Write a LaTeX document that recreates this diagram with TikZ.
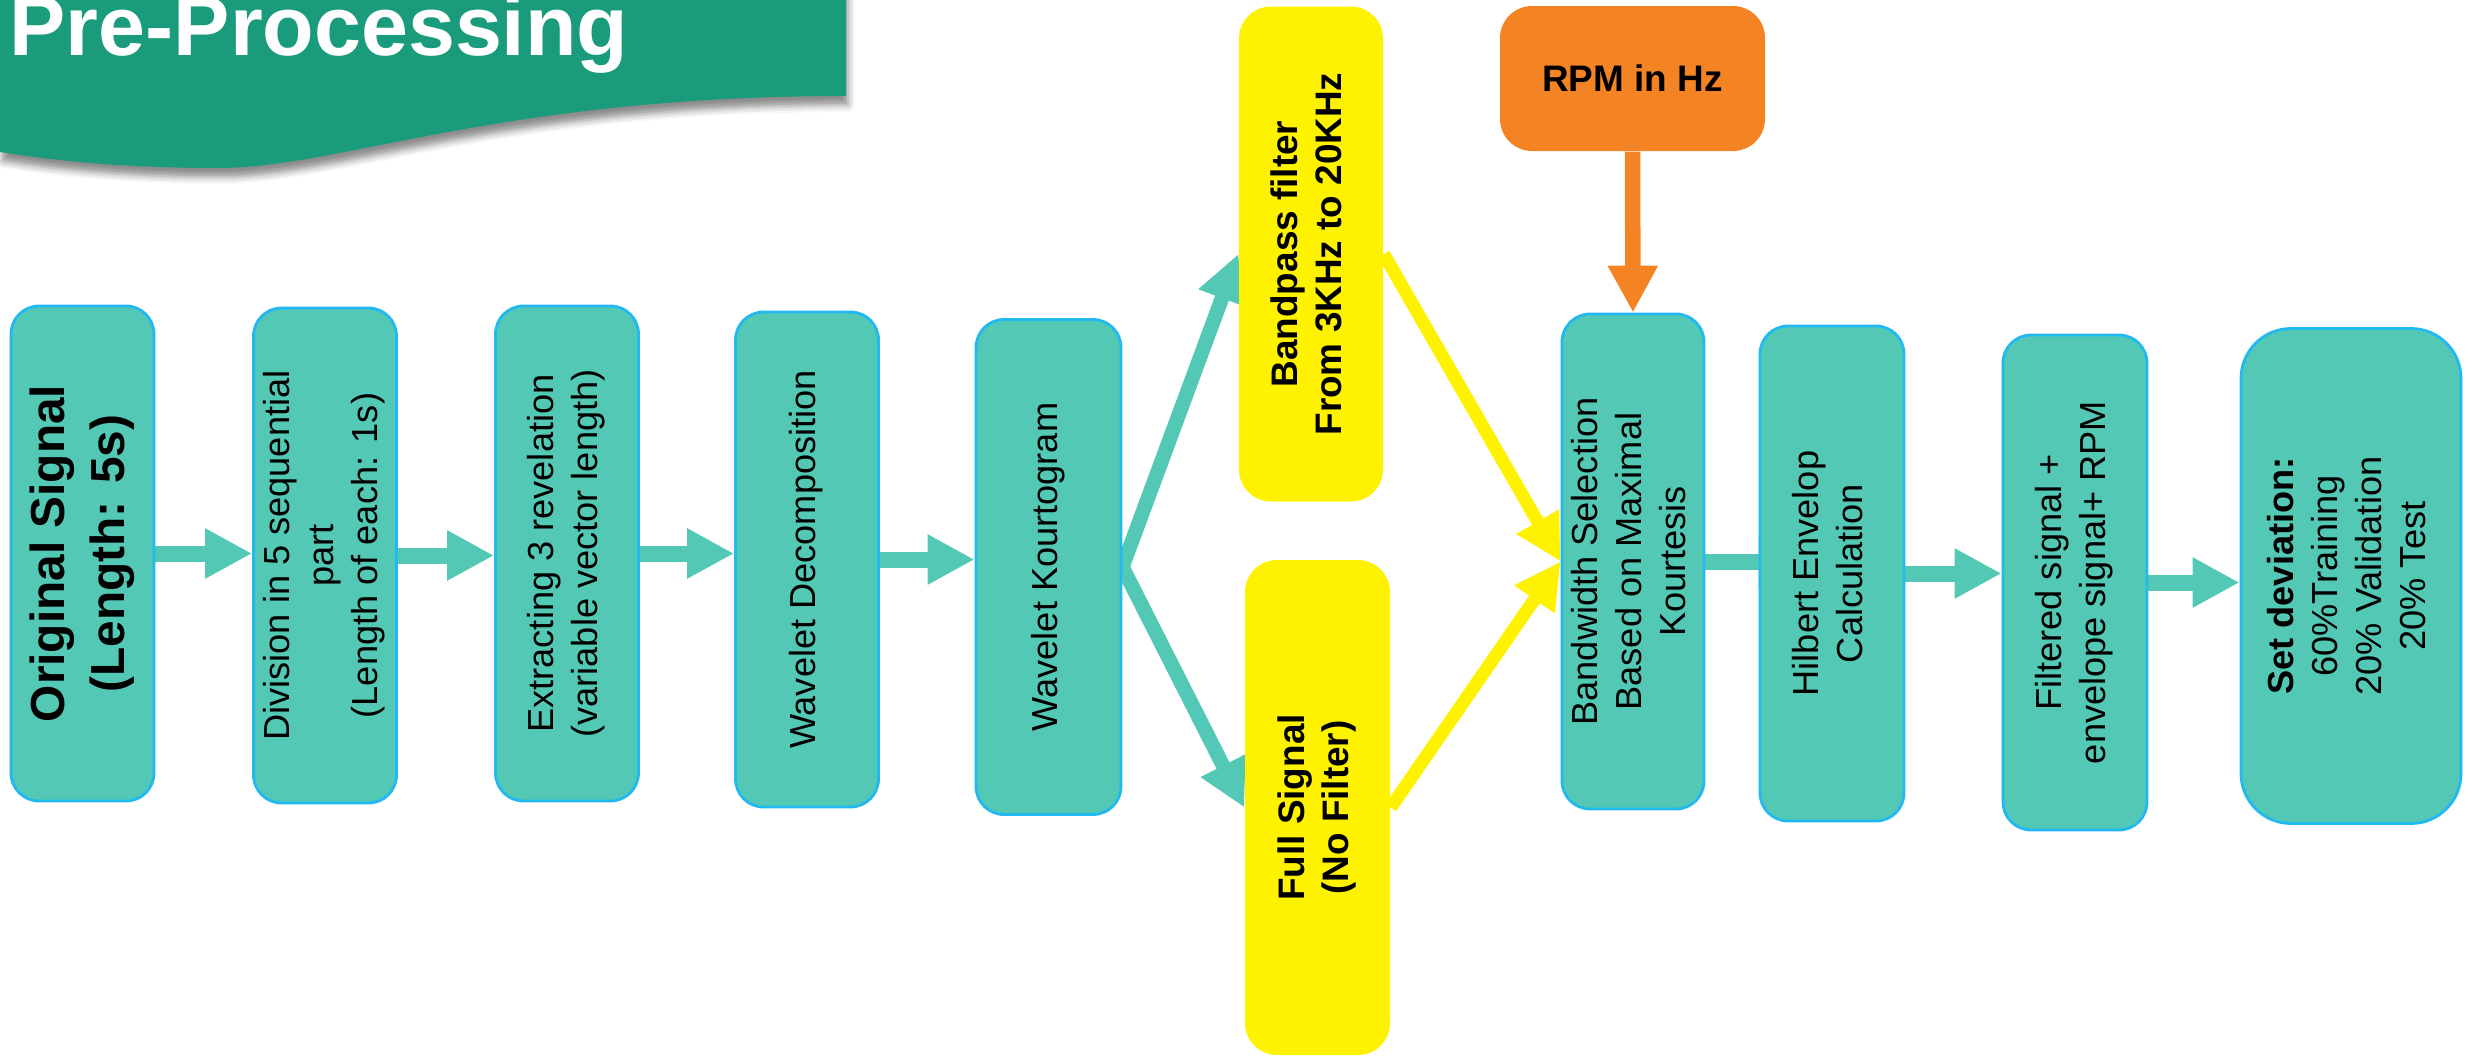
\documentclass[tikz,border=0pt]{standalone}
\usepackage{fontspec}
\setmainfont{Liberation Sans}
\usetikzlibrary{arrows.meta,backgrounds,shadows.blur}

\definecolor{bandgreen}{RGB}{26,156,124}
\definecolor{stepfill}{RGB}{83,201,181}
\definecolor{stepline}{RGB}{34,184,240}
\definecolor{rpmorange}{RGB}{244,132,35}

% vertical text, read from bottom to top
\newcommand{\vlabel}[1]{\rotatebox{90}{\begin{tabular}{@{}c@{}}#1\end{tabular}}}

\tikzset{
  stepbox/.style={draw=stepline, line width=0.8pt, fill=stepfill,
    rounded corners=0.28cm, minimum width=1.43cm, minimum height=4.95cm,
    inner sep=0pt, font=\fontsize{10.3}{12.5}\selectfont},
  filterbox/.style={fill=yellow, rounded corners=0.32cm,
    minimum width=1.44cm, minimum height=4.95cm, inner sep=0pt,
    font=\fontsize{10.5}{12.4}\selectfont\bfseries},
  rpmbox/.style={fill=rpmorange, rounded corners=0.32cm,
    minimum width=2.65cm, minimum height=1.45cm, inner sep=0pt,
    font=\fontsize{10.5}{12.4}\selectfont\bfseries},
  flow/.style={draw=stepfill, line width=1.6mm,
    -{Triangle[width=4.7mm,length=4.7mm]}},
  branch/.style={draw=stepfill, line width=1.45mm,
    -{Triangle[width=4.7mm,length=4.7mm]}},
  merge/.style={draw=yellow, line width=1.3mm,
    -{Triangle[width=4.6mm,length=4.6mm]}},
  rpmflow/.style={draw=rpmorange, line width=1.55mm,
    -{Triangle[width=4.7mm,length=4.7mm]}}
}

\begin{document}
\begin{tikzpicture}
    \useasboundingbox (0,0) rectangle (24.76,10.58);

    % Title band with wavy lower edge
    \fill[bandgreen, blur shadow={shadow xshift=0.6pt, shadow yshift=-2.6pt,
        shadow blur radius=2pt, shadow opacity=45}]
        (0,10.8) -- (8.46,10.8) -- (8.46,9.62)
        .. controls (5.0,9.62) and (3.4,8.90) .. (2.18,8.90)
        .. controls (1.2,8.90) and (0.5,8.98) .. (0,9.06) -- cycle;
    \node[anchor=base west, text=white, inner sep=0pt,
        font=\fontsize{24}{28}\selectfont\bfseries] (title) at (0.09,10.03) {Pre-Processing};

    % Main chain
    \node[stepbox, font=\fontsize{13.6}{17}\selectfont\bfseries] (orig) at (0.825,5.045)
        {\vlabel{Original Signal\\(Length: 5s)}};
    \node[stepbox] (div) at (3.25,5.025)
        {\vlabel{Division in 5 sequential\\part\\(Length of each: 1s)}};
    \node[stepbox] (ext) at (5.67,5.045)
        {\vlabel{Extracting 3 revelation\\(variable vector length)}};
    \node[stepbox] (dec) at (8.07,4.985) {\vlabel{Wavelet Decomposition}};
    \node[stepbox, minimum width=1.45cm] (kurt) at (10.485,4.91) {\vlabel{Wavelet Kourtogram}};

    % Two branches
    \node[filterbox] (band) at (13.11,8.04)
        {\vlabel{Bandpass filter\\From 3KHz to 20KHz}};
    \node[filterbox, minimum width=1.45cm] (full) at (13.175,2.505)
        {\vlabel{Full Signal\\(No Filter)}};

    % RPM input
    \node[rpmbox] (rpm) at (16.325,9.795) {RPM in Hz};

    \node[stepbox, minimum width=1.42cm] (bws) at (16.33,4.965)
        {\vlabel{Bandwidth Selection\\Based on Maximal\\Kourtesis}};
    \node[stepbox, minimum width=1.44cm] (hil) at (18.32,4.845)
        {\vlabel{Hilbert Envelop\\Calculation}};
    \node[stepbox, minimum width=1.44cm] (filt) at (20.75,4.755)
        {\vlabel{Filtered signal +\\envelope signal+ RPM}};
    \node[stepbox, minimum width=2.2cm, rounded corners=0.5cm] (set) at (23.51,4.82)
        {\vlabel{\textbf{Set deviation:}\\60\%Training\\20\% Validation\\20\% Test}};

    % Connectors behind the boxes
    \begin{scope}[on background layer]
        \draw[flow] (orig.east) -- (orig.east -| div.west);
        \draw[flow] (div.east) -- (div.east -| ext.west);
        \draw[flow] (ext.east) -- (ext.east -| dec.west);
        \draw[flow] (dec.east) -- (dec.east -| kurt.west);
        \draw[branch] (kurt.east) -- (band.west);
        \draw[branch] (kurt.east) -- (full.west);
        \draw[merge] (band.east) -- (bws.west);
        \draw[merge] (full.east) -- (bws.west);
        \draw[rpmflow] (rpm.south) -- (bws.north);
        \draw[flow, shorten >=-4.7mm] (bws.east) -- (bws.east -| hil.west);
        \draw[flow] (hil.east) -- (hil.east -| filt.west);
        \draw[flow] (filt.east) -- (filt.east -| set.west);
    \end{scope}
\end{tikzpicture}
\end{document}
